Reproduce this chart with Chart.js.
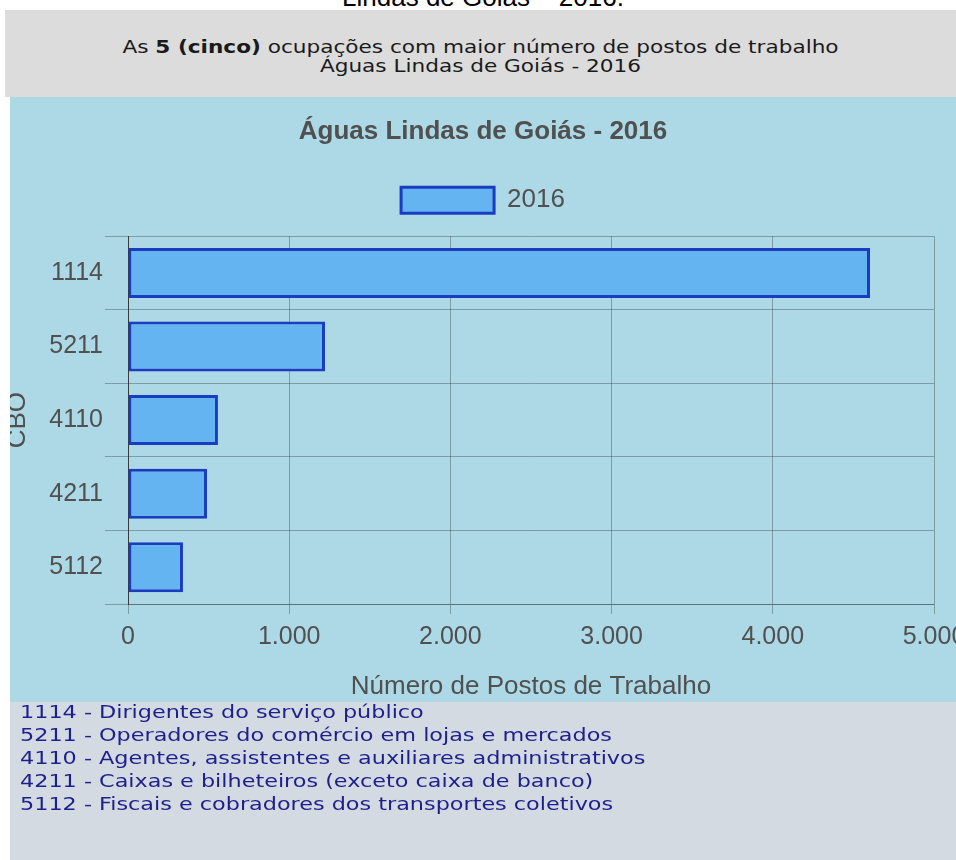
<!doctype html>
<html lang="pt-BR">
  <head>
    <meta charset="utf-8">
    <script src="https://cdn.jsdelivr.net/npm/chart.js@4.4.1/dist/chart.umd.min.js"></script>
    <title>Águas Lindas de Goiás - 2016</title>
    <style>
      html, body { margin: 0; padding: 0; background: #fff; width: 956px; height: 860px; overflow: hidden; position: relative; }
      #caption {
        position: absolute; top: -18px; left: 0; width: 966px; text-align: center;
        font: 26px "Liberation Sans", Arial, sans-serif; line-height: 30px; color: #000;
      }
      #header {
        position: absolute; left: 5px; top: 10px; width: 951px; height: 87px;
        background: #dcdcdc; text-align: center; box-sizing: border-box; padding-top: 27px;
        font: 18px "DejaVu Sans", Verdana, sans-serif; line-height: 19px; color: #1a1a1a;
      }
      #header div { transform: scaleX(1.2); transform-origin: 50% 50%; }
      #panel {
        position: absolute; left: 10px; top: 97px; width: 946px; height: 605px;
        background: #add8e6; overflow: hidden;
      }
      #chart-box { position: absolute; left: -10px; top: 0; width: 966px; height: 605px; }
      #codes {
        position: absolute; left: 10px; top: 702px; width: 946px; height: 158px;
        background: #d3dae2; box-sizing: border-box; padding: 0 0 0 10px;
        font: 18px "DejaVu Sans", Verdana, sans-serif; line-height: 23px; color: #1e1e8c;
      }
      #code-list { margin-top: -2px; transform: scaleX(1.24); transform-origin: 0 50%; }
    </style>
  </head>
  <body>
    <div id="caption">Lindas de Goiás – 2016.</div>
    <div id="header"><div>As <b>5 (cinco)</b> ocupações com maior número de postos de trabalho<br>Águas Lindas de Goiás - 2016</div></div>
    <div id="panel">
      <div id="chart-box"><canvas id="bar-chart"></canvas></div>
    </div>
    <div id="codes"><div id="code-list"></div></div>

    <script>
      // CBO codes and number of jobs
      const categories = ['1114', '5211', '4110', '4211', '5112']
      const values2016 = [4603, 1222, 558, 490, 341]
      const descriptions = [
        'Dirigentes do serviço público',
        'Operadores do comércio em lojas e mercados',
        'Agentes, assistentes e auxiliares administrativos',
        'Caixas e bilheteiros (exceto caixa de banco)',
        'Fiscais e cobradores dos transportes coletivos'
      ]
      const xTickValues = [0, 1000, 2000, 3000, 4000, 5000]

      document.getElementById('code-list').innerHTML =
        categories.map((c, i) => c + ' - ' + descriptions[i]).join('<br>')

      function formatBR(v) {
        return String(v).replace(/\B(?=(\d{3})+(?!\d))/g, '.')
      }

      const fontFamily = '"Liberation Sans", Arial, sans-serif'
      const textColor = '#505050'
      const gridColor = 'rgba(0, 0, 0, 0.28)'

      // empty box between the legend and the plot, so the plot starts lower
      const legendGap = {
        id: 'legendGap',
        beforeInit(chart) {
          Chart.layouts.addBox(chart, {
            position: 'top',
            weight: 500,
            fullSize: true,
            options: {},
            isHorizontal: () => true,
            update(maxWidth) {
              this.width = maxWidth
              this.height = 13
            },
            draw() {}
          })
        }
      }

      new Chart(document.getElementById('bar-chart'), {
        type: 'bar',
        data: {
          labels: categories,
          datasets: [{
            label: '2016',
            data: values2016,
            backgroundColor: '#64b4f2',
            borderColor: '#1a3cc0',
            borderWidth: 3,
            borderSkipped: false,
            barPercentage: 0.68,
            categoryPercentage: 1
          }]
        },
        plugins: [legendGap],
        options: {
          indexAxis: 'y',
          responsive: true,
          maintainAspectRatio: false,
          animation: false,
          layout: { padding: 0 },
          plugins: {
            title: {
              display: true,
              text: 'Águas Lindas de Goiás - 2016',
              color: '#505050',
              font: { family: fontFamily, size: 26, weight: 'bold' },
              padding: { top: 19, bottom: 30 }
            },
            legend: {
              display: true,
              position: 'top',
              labels: {
                boxWidth: 93,
                boxHeight: 26,
                padding: 10,
                color: textColor,
                font: { family: fontFamily, size: 26 }
              }
            },
            tooltip: { enabled: false }
          },
          scales: {
            x: {
              min: 0,
              max: 5000,
              afterBuildTicks: (scale) => {
                scale.ticks = xTickValues.map(v => ({ value: v }))
              },
              afterFit: (scale) => {
                scale.height = 98
                scale.paddingLeft = 0
                scale.paddingRight = 32
              },
              ticks: {
                color: textColor,
                padding: 8,
                font: { family: fontFamily, size: 25 },
                callback: (v) => formatBR(v)
              },
              grid: { color: gridColor, tickLength: 10 },
              border: { color: gridColor },
              title: {
                display: true,
                text: 'Número de Postos de Trabalho',
                color: textColor,
                font: { family: fontFamily, size: 26 },
                padding: { top: 0, bottom: 0 }
              }
            },
            y: {
              afterFit: (scale) => {
                scale.width = 128
              },
              ticks: {
                color: textColor,
                padding: 2,
                font: { family: fontFamily, size: 25 }
              },
              grid: { color: gridColor, tickLength: 23 },
              border: { color: '#3a3a3a' },
              title: {
                display: true,
                text: 'CBO',
                color: textColor,
                font: { family: fontFamily, size: 26 },
                padding: { top: 2, bottom: 0 }
              }
            }
          }
        }
      })
    </script>
  </body>
</html>
